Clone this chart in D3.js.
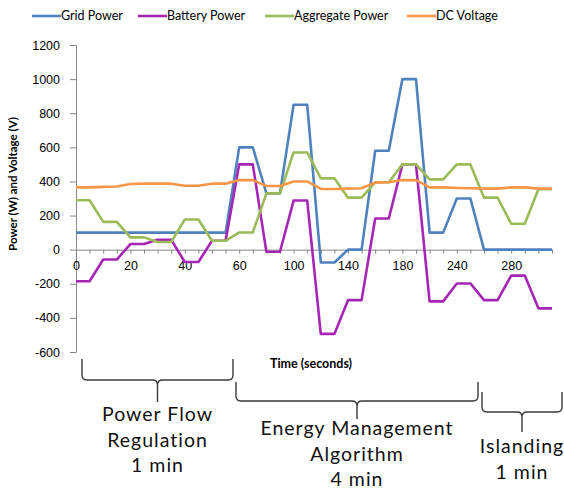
<!DOCTYPE html>
<html>
<head>
<meta charset="utf-8">
<script src="https://cdn.jsdelivr.net/npm/d3@7"></script>
<style>
  body { margin: 0; background: #fff; }
  svg { font-family: Lato, "Liberation Sans", sans-serif; }
</style>
</head>
<body>
<div id="chart"></div>
<script>
// category times (seconds) - only every 4th gets a label, like the excel chart
var times = [0, 5, 10, 15, 20, 25, 30, 35, 40, 45, 50, 55, 60,
             70, 80, 90, 100, 110, 120, 130, 140, 150, 160, 170, 180,
             195, 210, 225, 240, 250, 260, 270, 280, 290, 300, 310];
var labelEvery = 4;

var gridPower = [100, 100, 100, 100, 100, 100, 100, 100, 100, 100, 100, 100,
                 600, 600, 330, 330, 850, 850, -75, -75, 0, 0, 580, 580,
                 1000, 1000, 100, 100, 300, 300, 0, 0, 0, 0, 0, 0];
var batteryPower = [-185, -185, -58, -58, 33, 33, 58, 58, -72, -72, 52, 52,
                    500, 500, -12, -12, 288, 288, -494, -494, -296, -296, 183, 183,
                    500, 500, -303, -303, -198, -198, -296, -296, -152, -152, -344, -344];
var aggregatePower = [290, 290, 163, 163, 72, 72, 45, 45, 177, 177, 52, 52,
                      101, 101, 330, 330, 570, 570, 418, 418, 305, 305, 395, 395,
                      500, 500, 412, 412, 500, 500, 305, 305, 152, 152, 354, 354];
var dcVoltage = [365, 365, 368, 370, 385, 387, 387, 387, 375, 375, 387, 387,
                 408, 408, 373, 373, 400, 400, 356, 356, 358, 360, 393, 395,
                 408, 408, 365, 365, 362, 360, 358, 358, 365, 365, 358, 358];

var seriesNames = ["Grid Power", "Battery Power", "Aggregate Power", "DC Voltage"];
var seriesColors = ["#4F81BD", "#A526B4", "#9BBB59", "#F79646"];
var yTicks = [-600, -400, -200, 0, 200, 400, 600, 800, 1000, 1200];

var width = 564, height = 489;
var margin = {top: 45, right: 12, bottom: 137, left: 76};

var svg = d3.select("#chart").append("svg")
    .attr("width", width)
    .attr("height", height);

var x = d3.scalePoint()
    .domain(times)
    .range([margin.left, width - margin.right]);

var y = d3.scaleLinear()
    .domain([-600, 1200])
    .range([height - margin.bottom, margin.top]);

// y axis - plain numbers, no thousands comma
var yAxis = svg.append("g")
    .attr("transform", "translate(" + margin.left + ",0)")
    .call(d3.axisLeft(y)
        .tickValues(yTicks)
        .tickSize(6)
        .tickPadding(10)
        .tickFormat(function(d) { return String(d); }));
yAxis.select(".domain").attr("stroke", "#868686");
yAxis.selectAll(".tick line").attr("stroke", "#868686");
yAxis.selectAll(".tick text")
    .attr("fill", "#000")
    .style("font-size", "12.5px");

// x axis sits at zero
var xAxis = svg.append("g")
    .attr("transform", "translate(0," + y(0) + ")")
    .call(d3.axisBottom(x)
        .tickSize(4)
        .tickSizeOuter(0)
        .tickPadding(7)
        .tickFormat(function(d, i) { return i % labelEvery === 0 ? d : ""; }));
xAxis.select(".domain").attr("stroke", "#868686");
xAxis.selectAll(".tick line").attr("stroke", "#868686");
xAxis.selectAll(".tick text")
    .attr("fill", "#000")
    .style("font-size", "12.5px");

// lines, in series order so orange ends up on top
var allSeries = [gridPower, batteryPower, aggregatePower, dcVoltage];
var line = d3.line()
    .x(function(d, i) { return x(times[i]); })
    .y(function(d) { return y(d); });

allSeries.forEach(function(s, k) {
  svg.append("path")
      .datum(s)
      .attr("fill", "none")
      .attr("stroke", seriesColors[k])
      .attr("stroke-width", 2.6)
      .attr("stroke-linejoin", "round")
      .attr("d", line);
});

// axis titles
svg.append("text")
    .attr("transform", "translate(17,184) rotate(-90)")
    .attr("text-anchor", "middle")
    .style("font-size", "11.5px")
    .style("font-weight", "bold")
    .text("Power (W) and Voltage (V)");

svg.append("text")
    .attr("x", 311)
    .attr("y", 368)
    .attr("text-anchor", "middle")
    .style("font-size", "12.5px")
    .style("font-weight", "bold")
    .text("Time (seconds)");

// legend
var legendX = [32, 138, 265, 407];
var legend = svg.append("g");
seriesNames.forEach(function(name, k) {
  legend.append("line")
      .attr("x1", legendX[k]).attr("x2", legendX[k] + 29)
      .attr("y1", 16).attr("y2", 16)
      .attr("stroke", seriesColors[k])
      .attr("stroke-width", 2.6);
  legend.append("text")
      .attr("x", legendX[k] + 29)
      .attr("y", 20)
      .style("font-size", "12.5px")
      .text(name);
});

// braces with phase labels underneath
var phases = [
  {x0: 82, x1: 233, top: 359, mid: 380, tip: 402, lines: ["Power Flow", "Regulation", "1 min"], ty: 421},
  {x0: 236, x1: 478, top: 382, mid: 401, tip: 419, lines: ["Energy Management", "Algorithm", "4 min"], ty: 435},
  {x0: 482, x1: 562, top: 392, mid: 412, tip: 432, lines: ["Islanding", "1 min"], ty: 453}
];

function bracePath(p) {
  var r = 5, xm = (p.x0 + p.x1) / 2;
  return "M" + p.x0 + "," + p.top +
    "L" + p.x0 + "," + (p.mid - r) +
    "Q" + p.x0 + "," + p.mid + " " + (p.x0 + r) + "," + p.mid +
    "L" + (xm - r) + "," + p.mid +
    "Q" + xm + "," + p.mid + " " + xm + "," + (p.mid + r) +
    "L" + xm + "," + p.tip +
    "M" + xm + "," + (p.mid + r) +
    "Q" + xm + "," + p.mid + " " + (xm + r) + "," + p.mid +
    "L" + (p.x1 - r) + "," + p.mid +
    "Q" + p.x1 + "," + p.mid + " " + p.x1 + "," + (p.mid - r) +
    "L" + p.x1 + "," + p.top;
}

phases.forEach(function(p) {
  svg.append("path")
      .attr("d", bracePath(p))
      .attr("fill", "none")
      .attr("stroke", "#3a3a3a")
      .attr("stroke-width", 1.4);
  var t = svg.append("text")
      .attr("text-anchor", "middle")
      .style("font-size", "19.5px")
      .style("letter-spacing", "1px")
      .attr("fill", "#111");
  p.lines.forEach(function(s, i) {
    t.append("tspan")
        .attr("x", (p.x0 + p.x1) / 2)
        .attr("y", p.ty + i * 25.5)
        .text(s);
  });
});
</script>
</body>
</html>
